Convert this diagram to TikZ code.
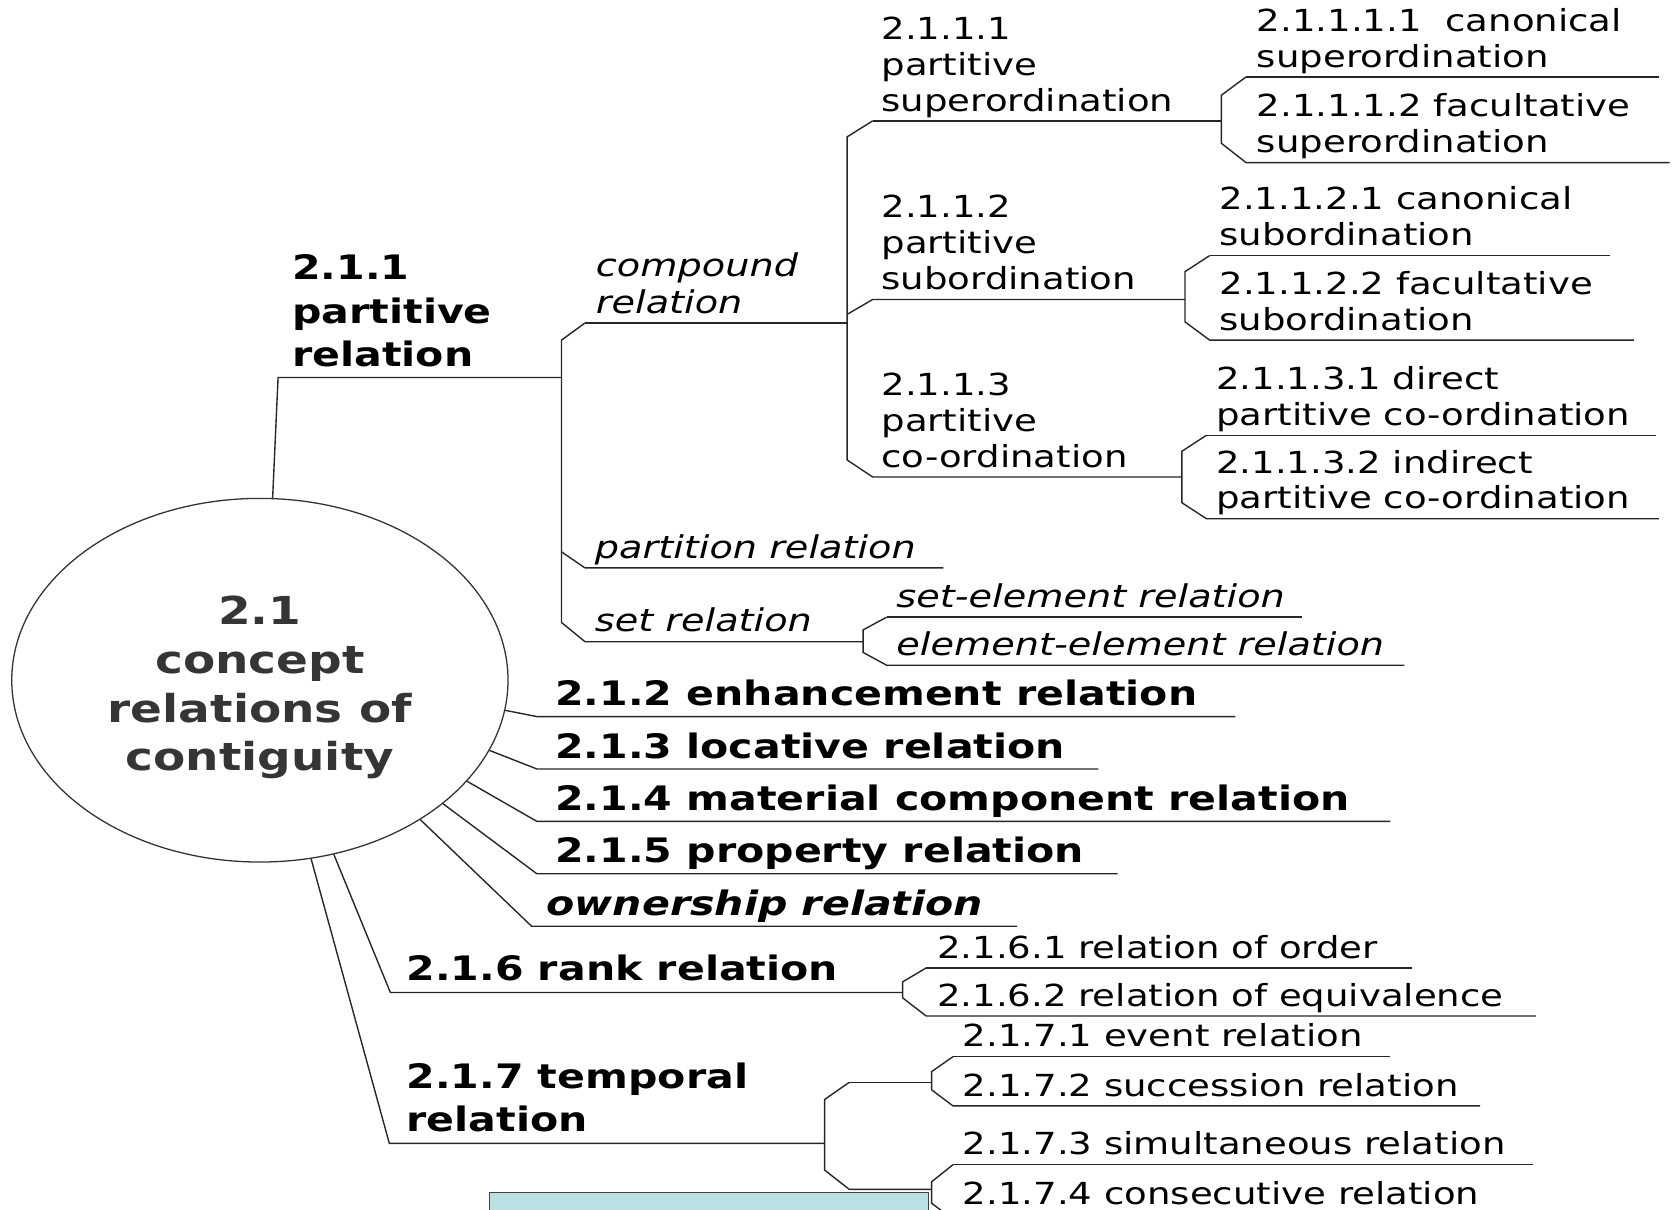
\documentclass[tikz,border=0pt]{standalone}
\usepackage{fontspec}
\setmainfont[FakeStretch=1.22]{DejaVu Sans}
\usepackage{tikz}
\usetikzlibrary{positioning,shapes.geometric}
\definecolor{boxcyan}{HTML}{B9E0E2}
\definecolor{inkgray}{HTML}{353535}
\tikzset{
  branch/.style={line width=1.3pt, draw=black!85},
  toplbl/.style={inner sep=0pt, text depth=0pt, align=left, font=\fontsize{31.5}{40.5}\selectfont\bfseries},
  sublbl/.style={inner sep=0pt, text depth=0pt, align=left, font=\fontsize{28.4}{33.5}\selectfont},
  itlbl/.style={inner sep=0pt, text depth=0pt, align=left, font=\fontsize{29.3}{34}\selectfont\itshape},
}
\begin{document}
\begin{tikzpicture}[x=1pt, y=-1pt]
\useasboundingbox (0,0) rectangle (1568,1131);
\clip (0,0) rectangle (1568,1131);

\node (core) [ellipse, draw=black!80, line width=1.2pt, minimum width=464pt, minimum height=340pt,
  inner sep=0pt] at (243,636) {};
\node (coretxt) [align=center, text=inkgray, inner sep=0pt, font=\fontsize{36}{45.5}\selectfont\bfseries]
  at (243,643) {2.1\\concept\\relations of\\contiguity};

  \path
    (260,353) coordinate (k211)
    (525,353) coordinate (j211)
    (547,302) coordinate (cmpL) (792,302) coordinate (cmpR)
    (547,531) coordinate (prtL) (882,531) coordinate (prtR)
    (547,600) coordinate (setL) (807,600) coordinate (setR)
    (816,113) coordinate (s1L) (1142,113) coordinate (s1R)
    (816,280) coordinate (s2L) (1108,280) coordinate (s2R)
    (816,446) coordinate (s3L) (1105,446) coordinate (s3R)
    (1165,72) coordinate (c11L) (1551,72) coordinate (c11R)
    (1165,152) coordinate (c12L) (1561,152) coordinate (c12R)
    (1131,239) coordinate (c21L) (1505,239) coordinate (c21R)
    (1131,318) coordinate (c22L) (1528,318) coordinate (c22R)
    (1128,407) coordinate (c31L) (1548,407) coordinate (c31R)
    (1128,485) coordinate (c32L) (1551,485) coordinate (c32R)
    (829,577) coordinate (e1L) (1217,577) coordinate (e1R)
    (829,622) coordinate (e2L) (1313,622) coordinate (e2R)
  ;
  \path
    (502,670) coordinate (m2L) (1155,670) coordinate (m2R)
    (502,719) coordinate (m3L) (1027,719) coordinate (m3R)
    (502,768) coordinate (m4L) (1300,768) coordinate (m4R)
    (502,817) coordinate (m5L) (1045,817) coordinate (m5R)
    (497,866) coordinate (owL) (951,866) coordinate (owR)
    (365,928) coordinate (m6L) (844,928) coordinate (m6R)
    (364,1069) coordinate (m7L) (771,1069) coordinate (m7R)
    (866,905) coordinate (r1L) (1320,905) coordinate (r1R)
    (866,950) coordinate (r2L) (1436,950) coordinate (r2R)
    (794,1012) coordinate (q1L) (871,1012) coordinate (q1R)
    (794,1112) coordinate (q2L) (871,1112) coordinate (q2R)
    (891,988) coordinate (v1L) (1300,988) coordinate (v1R)
    (891,1034) coordinate (v2L) (1384,1034) coordinate (v2R)
    (891,1089) coordinate (v3L) (1433,1089) coordinate (v3R)
    (891,1140) coordinate (v4L) (1400,1140) coordinate (v4R)
  ;

\fill[boxcyan, draw=black!75, line width=1.2pt] (458,1115) rectangle (868,1180);

% 2.1.1 and its forks
\draw[branch] (core.86.3) -- (k211) -- (j211);
\draw[branch] (cmpL) -- ++(-22,16) -- ([shift={(-22,-18)}]setL) -- (setL) -- (setR);
\draw[branch] (prtL) -- ++(-22,-15) (prtL) -- (prtR);
\draw[branch] (cmpL) -- (cmpR);
\draw[branch] (s1L) -- ++(-24,15) -- ([shift={(-24,-16)}]s3L) -- (s3L) -- (s3R);
\draw[branch] (s2L) -- ++(-24,14) (s2L) -- (s2R);
\draw[branch] (s1L) -- (s1R);
\draw[branch] (c11L) -- ++(-23,17) -- ([shift={(-23,-18)}]c12L) -- (c12L) -- (c12R);
\draw[branch] (c11L) -- (c11R);
\draw[branch] (c21L) -- ++(-23,15) -- ([shift={(-23,-17)}]c22L) -- (c22L) -- (c22R);
\draw[branch] (c21L) -- (c21R);
\draw[branch] (c31L) -- ++(-23,15) -- ([shift={(-23,-15)}]c32L) -- (c32L) -- (c32R);
\draw[branch] (c31L) -- (c31R);
\draw[branch] (e1L) -- ++(-22,12) -- ([shift={(-22,-12)}]e2L) -- (e2L) -- (e2R);
\draw[branch] (e1L) -- (e1R);

% the other relations
\draw[branch] (core.-7.5) -- (m2L) -- (m2R);
\draw[branch] (core.-17.9) -- (m3L) -- (m3R);
\draw[branch] (core.-26.8) -- (m4L) -- (m4R);
\draw[branch] (core.-34.9) -- (m5L) -- (m5R);
\draw[branch] (core.-41.8) -- (owL) -- (owR);
\draw[branch] (core.-67.2) -- (m6L) -- (m6R);
\draw[branch] (core.-74.1) -- (m7L) -- (m7R);
\draw[branch] (r1L) -- ++(-22,13) -- ([shift={(-22,-17)}]r2L) -- (r2L) -- (r2R);
\draw[branch] (r1L) -- (r1R);
\draw[branch] (q1L) -- ++(-23,16) -- ([shift={(-23,-18)}]q2L) -- (q2L) -- (q2R);
\draw[branch] (q1L) -- (q1R);
\draw[branch] (v1L) -- ++(-20,14) -- ([shift={(-20,-15)}]v2L) -- (v2L) -- (v2R);
\draw[branch] (v1L) -- (v1R);
\draw[branch] (v3L) -- ++(-20,16) -- ([shift={(-20,-15)}]v4L) -- (v4L) -- (v4R);
\draw[branch] (v3L) -- (v3R);

\node (t211) [toplbl, above right=10pt and 13pt of k211] {2.1.1\\partitive\\relation};
\node (tcmp) [itlbl, above right=9pt and 10pt of cmpL] {compound\\relation};
\node (tprt) [itlbl, above right=9pt and 9pt of prtL] {partition relation};
\node (tset) [itlbl, above right=9pt and 9pt of setL] {set relation};
\node (ts1) [sublbl, above right=9pt and 8pt of s1L] {2.1.1.1\\partitive\\superordination};
\node (ts2) [sublbl, above right=9pt and 8pt of s2L] {2.1.1.2\\partitive\\subordination};
\node (ts3) [sublbl, above right=9pt and 8pt of s3L] {2.1.1.3\\partitive\\co-ordination};
\node (tc11) [sublbl, above right=9pt and 10pt of c11L] {2.1.1.1.1\ \ canonical\\superordination};
\node (tc12) [sublbl, above right=9pt and 10pt of c12L] {2.1.1.1.2 facultative\\superordination};
\node (tc21) [sublbl, above right=9pt and 9pt of c21L] {2.1.1.2.1 canonical\\subordination};
\node (tc22) [sublbl, above right=9pt and 9pt of c22L] {2.1.1.2.2 facultative\\subordination};
\node (tc31) [sublbl, above right=9pt and 9pt of c31L] {2.1.1.3.1 direct\\partitive co-ordination};
\node (tc32) [sublbl, above right=9pt and 9pt of c32L] {2.1.1.3.2 indirect\\partitive co-ordination};
\node (te1) [itlbl, above right=9pt and 9pt of e1L] {set-element relation};
\node (te2) [itlbl, above right=9pt and 9pt of e2L] {element-element relation};

\node (t212) [toplbl, above right=10pt and 17pt of m2L] {2.1.2 enhancement relation};
\node (t213) [toplbl, above right=10pt and 17pt of m3L] {2.1.3 locative relation};
\node (t214) [toplbl, above right=10pt and 17pt of m4L] {2.1.4 material component relation};
\node (t215) [toplbl, above right=10pt and 17pt of m5L] {2.1.5 property relation};
\node (tow) [toplbl, font=\fontsize{31.5}{40.5}\selectfont\bfseries\itshape, above right=10pt and 14pt of owL] {ownership relation};
\node (t216) [toplbl, above right=11pt and 15pt of m6L] {2.1.6 rank relation};
\node (t217) [toplbl, above right=11pt and 16pt of m7L] {2.1.7 temporal\\relation};
\node (tr1) [sublbl, above right=9pt and 10pt of r1L] {2.1.6.1 relation of order};
\node (tr2) [sublbl, above right=9pt and 10pt of r2L] {2.1.6.2 relation of equivalence};
\node (tv1) [sublbl, above right=9pt and 9pt of v1L] {2.1.7.1 event relation};
\node (tv2) [sublbl, above right=9pt and 9pt of v2L] {2.1.7.2 succession relation};
\node (tv3) [sublbl, above right=9pt and 9pt of v3L] {2.1.7.3 simultaneous relation};
\node (tv4) [sublbl, above right=14pt and 9pt of v4L] {2.1.7.4 consecutive relation};

\end{tikzpicture}
\end{document}
